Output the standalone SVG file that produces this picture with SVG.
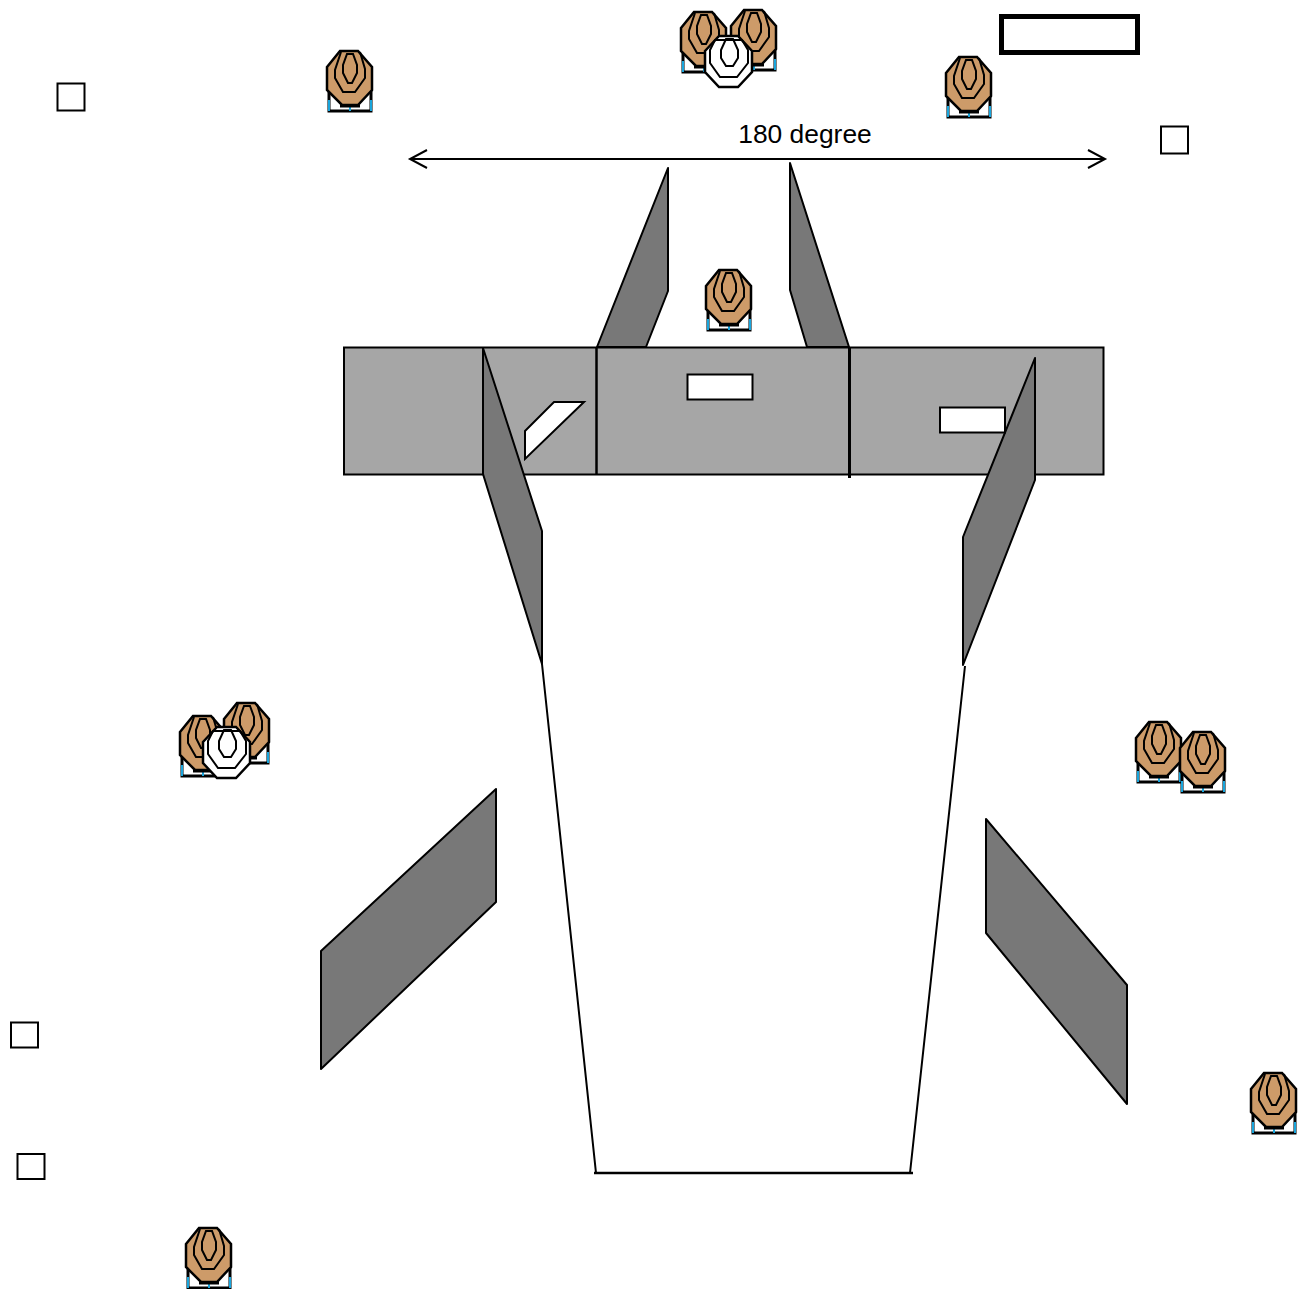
<svg xmlns="http://www.w3.org/2000/svg" width="1303" height="1289" viewBox="0 0 1303 1289">
<style>
.ln{fill:none;stroke:#000;stroke-width:2}
.band{fill:#a6a6a6;stroke:#000;stroke-width:2}
.dark{fill:#787878;stroke:#000;stroke-width:2;stroke-linejoin:round}
.win{fill:#fff;stroke:#000;stroke-width:2}
.box{fill:#fff;stroke:#000;stroke-width:2}
.ring{fill:none;stroke:#000;stroke-width:2}
</style>
<defs>
<path id="outline" d="M0 16L13 0H31L45 16V39L31 54H15L0 39Z" stroke="#000" stroke-width="2.500"/>
<g id="stand">
<path d="M2 34V60H44V34" fill="#fff" stroke="#000" stroke-width="3"/>
<path d="M2 49V60M44 49V60M23 55V60" fill="none" stroke="#19a5dc" stroke-width="2"/>
<path d="M13 55H33" stroke="#000" stroke-width="3"/>
</g>
<g id="target">
<use href="#stand"/>
<use href="#outline" fill="#cd9b69"/>
<path class="ring" d="M14 1L8 19V27L16 41H28L38 27V18L33 1"/>
<path class="ring" d="M20 3H26L30 14V22L25 32H21L16 22V14Z"/>
</g>
<g id="targetw">
<path d="M0 15L14 0H33L47 15V36L33 51H14L0 36Z" fill="#fff" stroke="#000" stroke-width="2.500"/>
<path class="ring" d="M10 4H37L43 14V27L32 41H15L5 27V14Z"/>
<path class="ring" d="M21 3H28L33 14V22L28 30H21L16 22V14Z"/>
</g>
</defs>
<g id="band">
<rect class="band" x="344" y="347.500" width="759.500" height="127"/>
</g>
<g id="connectors">
<path class="ln" d="M410 159H1105M427 150L410 159L427 168M1088 150L1105 159L1088 168"/>
<path class="ln" d="M542 664L596 1173M965 666L910 1173"/>
<path class="ln" style="stroke-width:2.500" d="M594 1173H913"/>
<path class="ln" style="stroke-width:2.500" d="M596.500 347V475"/>
<path class="ln" style="stroke-width:3" d="M849.500 347V478"/>
</g>
<g id="wall-top-left"><path class="dark" d="M668 168V291L646 347H597Z"/></g>
<g id="wall-top-right"><path class="dark" d="M790 163L849 347H807L790 290Z"/></g>
<g id="wall-left"><path class="dark" d="M483 348L542 531V664L483 474Z"/></g>
<g id="wall-right"><path class="dark" d="M1035 358V480L963 665V537Z"/></g>
<g id="wing-left"><path class="dark" d="M496 789V902L321 1069V951Z"/></g>
<g id="wing-right"><path class="dark" d="M986 819L1127 985V1104L986 933Z"/></g>
<g id="window-1"><path class="win" d="M525 431L554 402H584L525 459Z"/></g>
<g id="window-2"><rect class="win" x="687.500" y="374.500" width="65" height="25"/></g>
<g id="window-3"><rect class="win" x="940" y="407.500" width="65" height="25"/></g>
<g id="sq-1"><rect class="box" x="57.500" y="83.500" width="27" height="27"/></g>
<g id="sq-2"><rect class="box" x="1161" y="126.500" width="27" height="27"/></g>
<g id="sq-3"><rect class="box" x="11" y="1022.500" width="27" height="25"/></g>
<g id="sq-4"><rect class="box" x="17.500" y="1154" width="27" height="25"/></g>
<g id="bar"><rect x="1001.500" y="16.500" width="136" height="36" fill="#fff" stroke="#000" stroke-width="5"/></g>
<g id="label"><text x="805" y="143" font-family="'Liberation Sans',Arial,sans-serif" font-size="26.400" text-anchor="middle">180 degree</text></g>
<g id="target-1"><use href="#target" x="327" y="51"/></g>
<g id="target-2"><use href="#target" x="681" y="12"/></g>
<g id="target-3"><use href="#target" x="731" y="10"/></g>
<g id="target-4"><use href="#targetw" x="705" y="36"/></g>
<g id="target-5"><use href="#target" x="946" y="57"/></g>
<g id="target-6"><use href="#target" x="706" y="270"/></g>
<g id="target-7"><use href="#target" x="224" y="703"/></g>
<g id="target-8"><use href="#target" x="180" y="716"/></g>
<g id="target-9"><use href="#targetw" x="203" y="727"/></g>
<g id="target-10"><use href="#target" x="1136" y="722"/></g>
<g id="target-11"><use href="#target" x="1180" y="732"/></g>
<g id="target-12"><use href="#target" x="1251" y="1073"/></g>
<g id="target-13"><use href="#target" x="186" y="1228"/></g>
</svg>
